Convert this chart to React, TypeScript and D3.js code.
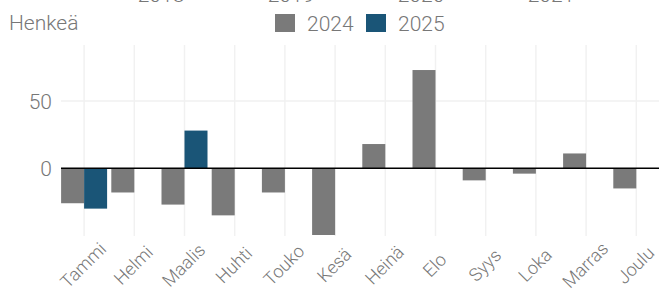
import React, { useEffect, useRef } from 'react';
import * as d3 from 'd3';

const months = ['Tammi', 'Helmi', 'Maalis', 'Huhti', 'Touko', 'Kesä', 'Heinä', 'Elo', 'Syys', 'Loka', 'Marras', 'Joulu'];
const years = ['2024', '2025'];
const values2024 = [-26, -18, -27, -35, -18, -50, 18, 73, -9, -4, 11, -15];
const values2025 = [-30, null, 28, null, null, null, null, null, null, null, null, null];
const yTicks = [0, 50];
const topYears = ['2018', '2019', '2020', '2021'];

export default function App() {
  const svgRef = useRef<SVGSVGElement>(null);

  useEffect(() => {
    if (!svgRef.current) return;
    drawChart();
  }, []);

  const drawChart = () => {
    const svg = d3.select(svgRef.current);
    svg.selectAll('*').remove();

    const width = 659;
    const height = 289;
    const panel = { left: 61, right: 659, top: 45, bottom: 235 };
    const font = 'Roboto, sans-serif';
    const textColor = '#777777';
    const colors: Record<string, string> = { '2024': '#7a7a7a', '2025': '#1a5577' };

    svg.attr('width', width).attr('height', height);

    const x = d3.scaleBand<string>().domain(months).range([59, 661.4]).padding(0);
    const xYear = d3.scaleBand<string>().domain(years).range([0, 46]).padding(0);
    const y = d3.scaleLinear().domain([-49.6, 91.6]).range([panel.bottom, panel.top]);
    const center = (m: string) => (x(m) as number) + x.bandwidth() / 2;

    // bottom edge of the axis labels of the chart above (cut off in the picture)
    svg.append('g')
      .selectAll('text')
      .data(topYears)
      .enter()
      .append('text')
      .attr('x', (d, i) => 161 + i * 130)
      .attr('y', 2)
      .attr('text-anchor', 'middle')
      .style('font-family', font)
      .style('font-weight', 300)
      .style('font-size', '21px')
      .style('fill', textColor)
      .text((d) => d);

    // grid
    const grid = svg.append('g');
    grid.selectAll('.vgrid')
      .data(months)
      .enter()
      .append('line')
      .attr('x1', (d) => center(d))
      .attr('x2', (d) => center(d))
      .attr('y1', panel.top)
      .attr('y2', panel.bottom + 1)
      .attr('stroke', '#f1f1f1')
      .attr('stroke-width', 1.5);

    grid.selectAll('.hgrid')
      .data(yTicks.filter((t) => t !== 0))
      .enter()
      .append('line')
      .attr('x1', panel.left)
      .attr('x2', panel.right)
      .attr('y1', (d) => y(d))
      .attr('y2', (d) => y(d))
      .attr('stroke', '#f1f1f1')
      .attr('stroke-width', 1.5);

    // bars
    svg.append('defs')
      .append('clipPath')
      .attr('id', 'panel-clip')
      .append('rect')
      .attr('x', panel.left)
      .attr('y', panel.top)
      .attr('width', panel.right - panel.left)
      .attr('height', panel.bottom - panel.top);

    const bars: { month: string; year: string; value: number }[] = [];
    months.forEach((m, i) => {
      if (values2024[i] != null) bars.push({ month: m, year: '2024', value: values2024[i] as number });
      if (values2025[i] != null) bars.push({ month: m, year: '2025', value: values2025[i] as number });
    });

    svg.append('g')
      .attr('clip-path', 'url(#panel-clip)')
      .selectAll('rect')
      .data(bars)
      .enter()
      .append('rect')
      .attr('x', (d) => center(d.month) - 23 + (xYear(d.year) as number))
      .attr('width', xYear.bandwidth())
      .attr('y', (d) => y(Math.max(0, d.value)))
      .attr('height', (d) => Math.abs(y(d.value) - y(0)))
      .attr('fill', (d) => colors[d.year]);

    // zero line
    svg.append('line')
      .attr('x1', panel.left)
      .attr('x2', panel.right)
      .attr('y1', y(0))
      .attr('y2', y(0))
      .attr('stroke', '#000')
      .attr('stroke-width', 1.4);

    // y labels
    svg.append('g')
      .selectAll('text')
      .data(yTicks)
      .enter()
      .append('text')
      .attr('x', 52)
      .attr('y', (d) => y(d) + 1)
      .attr('text-anchor', 'end')
      .attr('dominant-baseline', 'central')
      .style('font-family', font)
      .style('font-weight', 300)
      .style('font-size', '21px')
      .style('fill', textColor)
      .text((d) => d);

    // x labels
    svg.append('g')
      .selectAll('text')
      .data(months)
      .enter()
      .append('text')
      .attr('transform', (d) => `translate(${center(d) - 1},265) rotate(-45)`)
      .attr('text-anchor', 'middle')
      .attr('dominant-baseline', 'central')
      .style('font-family', font)
      .style('font-weight', 300)
      .style('font-size', '18px')
      .style('fill', textColor)
      .text((d) => d);

    // title
    svg.append('text')
      .attr('x', 9)
      .attr('y', 30)
      .style('font-family', font)
      .style('font-weight', 300)
      .style('font-size', '21px')
      .style('fill', textColor)
      .text('Henkeä');

    // legend
    const legend = svg.append('g');
    const legendX = [275, 366];
    years.forEach((yr, i) => {
      legend.append('rect')
        .attr('x', legendX[i])
        .attr('y', 14)
        .attr('width', 20)
        .attr('height', 18)
        .attr('fill', colors[yr]);
      legend.append('text')
        .attr('x', legendX[i] + 32)
        .attr('y', 31)
        .style('font-family', font)
        .style('font-weight', 300)
        .style('font-size', '21px')
        .style('fill', textColor)
        .text(yr);
    });
  };

  return (
    <div style={{ position: 'absolute', left: 0, top: 0 }}>
      <svg ref={svgRef} style={{ display: 'block' }}></svg>
    </div>
  );
}
